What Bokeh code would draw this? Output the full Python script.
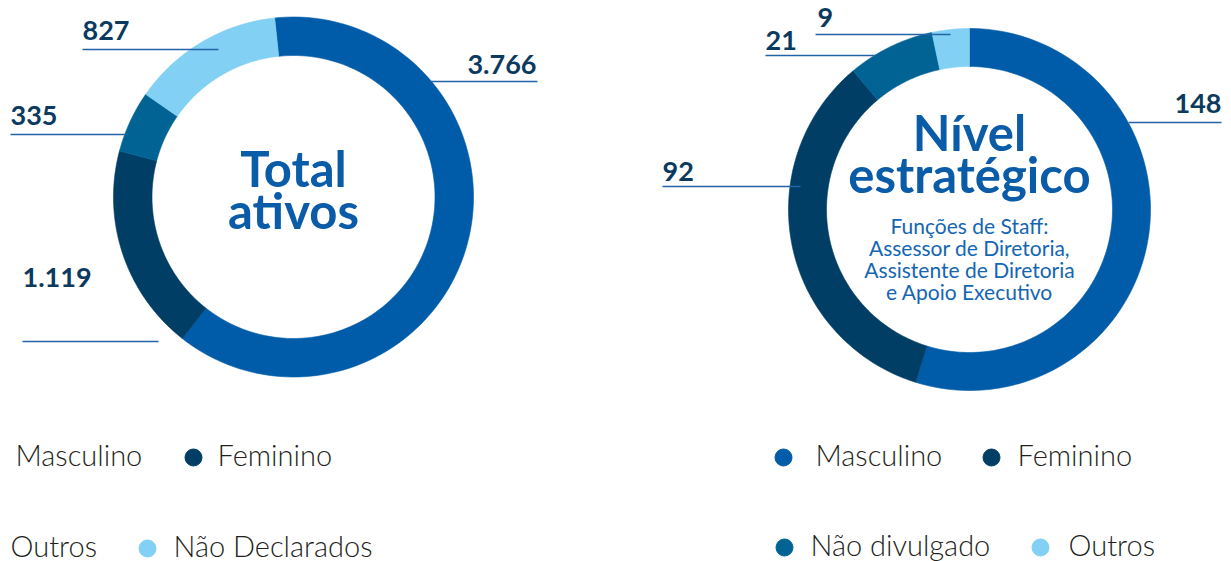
import numpy as np
from bokeh.plotting import figure
from bokeh.models import Range1d, ColumnDataSource
from bokeh.core.properties import value
from bokeh.embed import file_html
from bokeh.resources import INLINE

# ---------------- data ----------------
left_categories = ["Masculino", "Feminino", "Outros", "Não Declarados"]
left_values = [3766, 1119, 335, 827]
left_labels = ["3.766", "1.119", "335", "827"]
left_title = ["Total", "ativos"]

right_categories = ["Masculino", "Feminino", "Não divulgado", "Outros"]
right_values = [148, 92, 21, 9]
right_labels = ["148", "92", "21", "9"]
right_title = ["Nível", "estratégico"]
right_subtitle = ["Funções de Staff:", "Assessor de Diretoria,",
                  "Assistente de Diretoria", "e Apoio Executivo"]

# ---------------- styles ----------------
BLUE = "#005CA9"
NAVY = "#003E66"
TEAL = "#006393"
LIGHT = "#82D0F4"
left_colors = [BLUE, NAVY, TEAL, LIGHT]
right_colors = [BLUE, NAVY, TEAL, LIGHT]
LABEL_COLOR = "#0B3A5E"
LINE_COLOR = "#2563A8"
TITLE_COLOR = "#0A5CA8"
LEGEND_TEXT = "#231F20"
FONT = "Lato"
LIGHT_FONT = "Lato Light, Lato"

# layout (page pixel coordinates)
W, H = 1231, 561
L_CX, L_CY, L_RO, L_RI, L_START = 293, 196.5, 180, 141.5, -6
R_CX, R_CY, R_RO, R_RI, R_START = 969, 209, 181, 143, 0

p = figure(width=W, height=H, x_range=Range1d(0, W), y_range=Range1d(H, 0),
           output_backend="svg", toolbar_location=None, min_border=0)
p.axis.visible = False
p.grid.visible = False
p.outline_line_color = None
p.background_fill_color = "white"
p.border_fill_color = "white"


def ring(values, colors, cx, cy, ro, ri, start_deg):
    total = float(sum(values))
    xs, ys = [], []
    a0 = start_deg
    for v in values:
        a1 = a0 + 360.0 * v / total
        th = np.radians(np.linspace(a0, a1, 120))
        ox = cx + ro * np.sin(th)
        oy = cy - ro * np.cos(th)
        ix = cx + ri * np.sin(th[::-1])
        iy = cy - ri * np.cos(th[::-1])
        xs.append(list(np.concatenate([ox, ix])))
        ys.append(list(np.concatenate([oy, iy])))
        a0 = a1
    src = ColumnDataSource(dict(xs=xs, ys=ys, color=colors))
    p.patches("xs", "ys", source=src, fill_color="color", line_color="color", line_width=0.6)


ring(left_values, left_colors, L_CX, L_CY, L_RO, L_RI, L_START)
ring(right_values, right_colors, R_CX, R_CY, R_RO, R_RI, R_START)

# ---------------- value labels with leader lines ----------------
# (label text x, text centre y, line x0, line x1, line y, align)
left_label_layout = [(536, 63.5, 430, 537, 81, "right"),
                     (22, 277, 22, 158, 341, "left"),
                     (10, 115, 10, 125, 134, "left"),
                     (82, 29.5, 82, 218, 49, "left")]
right_label_layout = [(1221, 103, 1128, 1221, 122, "right"),
                      (662, 170.5, 662, 800, 186, "left"),
                      (765, 39.5, 765, 875, 55, "left"),
                      (817, 17, 815, 950, 34, "left")]

for labels, layout in ((left_labels, left_label_layout), (right_labels, right_label_layout)):
    for lab, (tx, ty, x0, x1, ly, align) in zip(labels, layout):
        p.segment(x0=[x0], y0=[ly], x1=[x1], y1=[ly], line_color=LINE_COLOR, line_width=1.5)
        p.text(x=[tx], y=[ty], text=[lab], text_font=value(FONT), text_font_style="bold",
               text_font_size="27px", text_color=LABEL_COLOR, text_align=align,
               text_baseline="middle")

# ---------------- centre titles ----------------
p.text(x=[L_CX, L_CX], y=[167, 209], text=left_title, text_font=value(FONT),
       text_font_style="bold", text_font_size="49px", text_color=TITLE_COLOR,
       text_align="center", text_baseline="middle")
p.text(x=[R_CX, R_CX], y=[131, 173], text=right_title, text_font=value(FONT),
       text_font_style="bold", text_font_size="49px", text_color=TITLE_COLOR,
       text_align="center", text_baseline="middle")
p.text(x=[R_CX] * 4, y=[225, 247, 269, 291], text=right_subtitle, text_font=value(FONT),
       text_font_size="21px", text_color="#1466B2", text_align="center",
       text_baseline="middle")

# ---------------- legends ----------------
# (dot shown?, dot x, text x, centre y)
left_legend_layout = [(False, 0, 15, 457), (True, 193, 217, 457),
                      (False, 0, 10, 548), (True, 147, 173, 548)]
right_legend_layout = [(True, 783, 815, 457), (True, 991, 1017, 457),
                       (True, 784, 810, 547), (True, 1040, 1068, 547)]

for cats, cols, layout in ((left_categories, left_colors, left_legend_layout),
                           (right_categories, right_colors, right_legend_layout)):
    for cat, col, (dot, dx, tx, cy) in zip(cats, cols, layout):
        if dot:
            p.scatter(x=[dx], y=[cy], size=17, marker="circle",
                      fill_color=col, line_color=col)
        p.text(x=[tx], y=[cy - 3.5], text=[cat], text_font=value(LIGHT_FONT),
               text_font_size="29px", text_color=LEGEND_TEXT, text_align="left",
               text_baseline="middle")

open("out.html", "w").write(file_html(p, INLINE))
